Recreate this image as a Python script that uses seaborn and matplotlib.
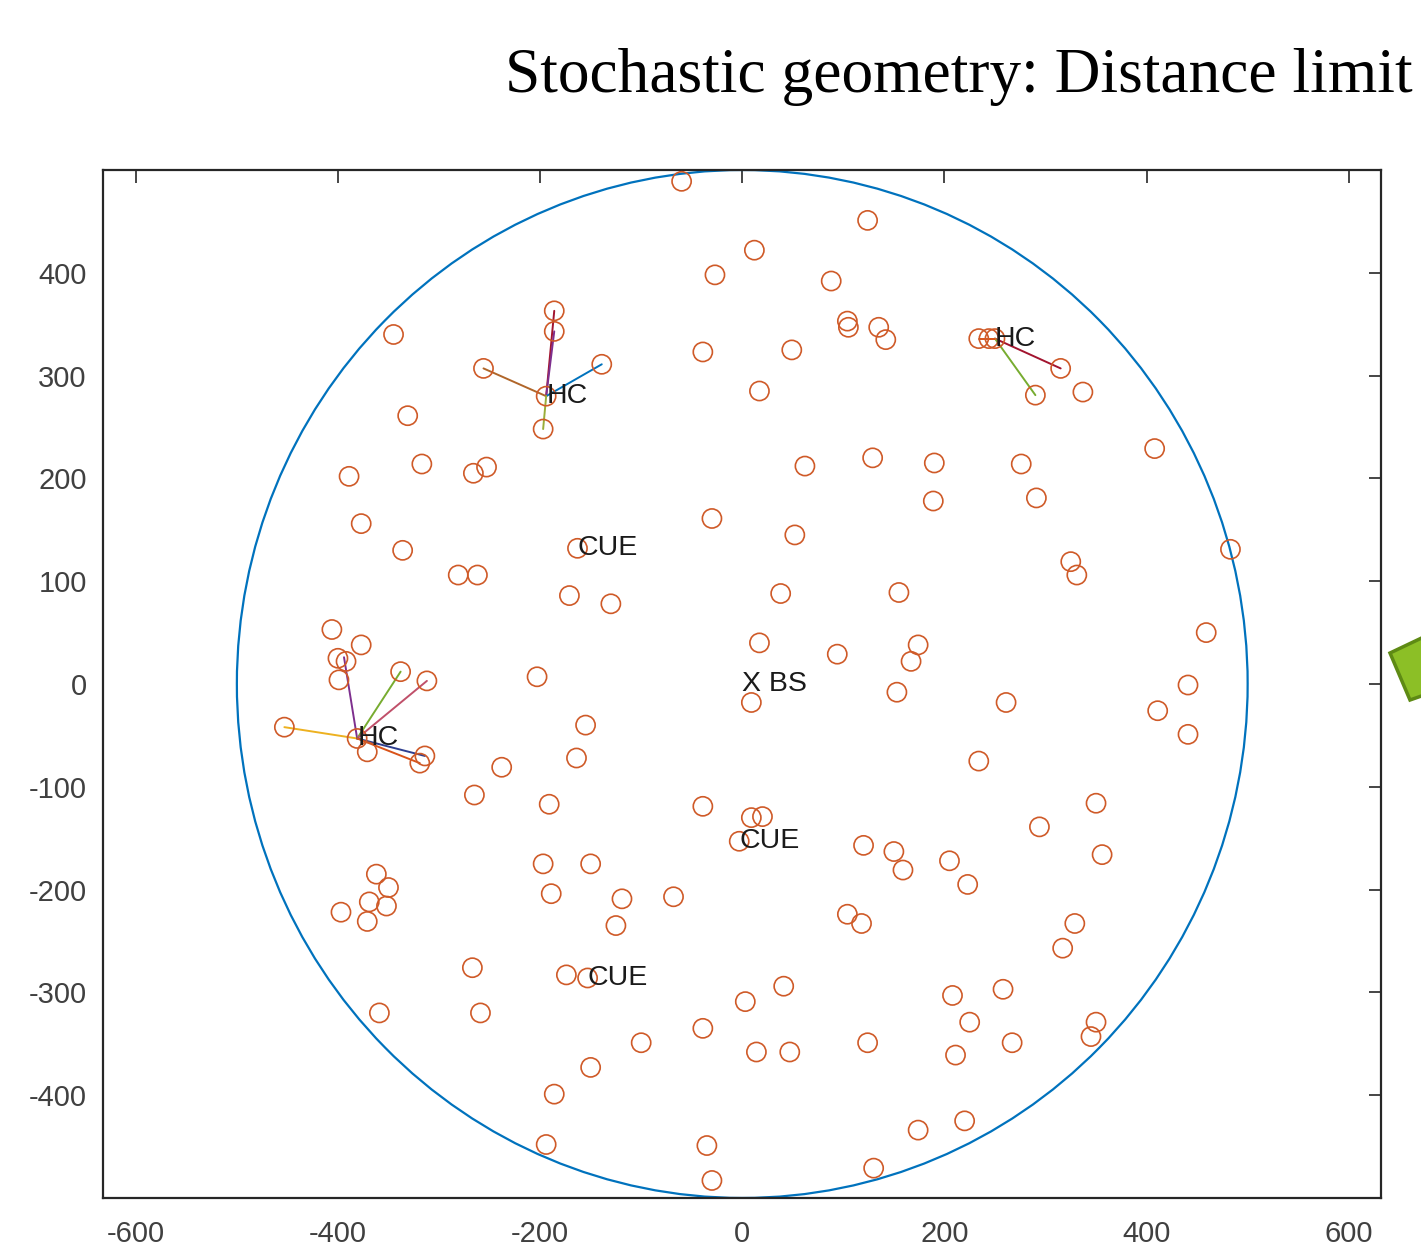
import matplotlib
matplotlib.use("Agg")
import matplotlib.pyplot as plt
import matplotlib.patches as mpatches
import seaborn as sns

# UE positions (metres)
ue_x = [-345, -186, -186, -256, -194, -197, -331, -317, -389, -266, -253, -377, -336, -281, -262, -163, -171, -203,
        -406, -377, -400, -392, -399, -338, -312, -453, -381, -371, -314, -319,
        -60, 124, 12, -27, 88, 104, 105, 135, 142, -39, 49, 17, -139, 62, 129, 190, 189, -30, 52, -130, 38, 155,
        17, 94, 174, 167, 153,
        234, 244, 250, 315, 290, 337, 408, 276, 291, 483, 325, 331, 459, 441, 261, 411, 441,
        234, 350, 294, 356, 205, 223, 329, 317, 208, 258, 225, 267, 211, 350, 345, 220,
        9, -39, 9, 20, -3, 120, 150, 159, -150, -119, -125, -68, 104, 118, -153, 41, 3, -39, -100, 14, 47, 124,
        -150, 174, -35, -30, 130,
        -155, -164, -238, -265, -191, -197, -189, -362, -350, -369, -352, -397, -371, -267, -174, -259, -359,
        -186, -194]
ue_y = [340, 363, 343, 307, 280, 248, 261, 214, 202, 205, 211, 156, 130, 106, 106, 132, 86, 7,
        53, 38, 25, 22, 4, 12, 3, -42, -53, -66, -70, -77,
        489, 451, 422, 398, 392, 353, 347, 347, 335, 323, 325, 285, 311, 212, 220, 215, 178, 161, 145, 78, 88, 89,
        40, 29, 38, 22, -8,
        336, 336, 336, 307, 281, 284, 229, 214, 181, 131, 119, 106, 50, -1, -18, -26, -49,
        -75, -116, -139, -166, -172, -195, -233, -257, -303, -297, -329, -349, -361, -329, -343, -425,
        -18, -119, -130, -129, -153, -157, -163, -181, -175, -209, -235, -207, -224, -233, -286, -294, -309, -335,
        -349, -358, -358, -349, -373, -434, -449, -483, -471,
        -40, -72, -81, -108, -117, -175, -204, -185, -198, -212, -216, -222, -231, -276, -283, -320, -320,
        -399, -448]

cell_radius = 500

# HC hubs and their links
hc_x = [-194, -381, 250]
hc_y = [280, -53, 336]
link_hc = [0, 0, 0, 0, 0, 1, 1, 1, 1, 1, 1, 2, 2, 2, 2]
link_x = [-186, -186, -139, -256, -197, -453, -394, -338, -312, -314, -319, 315, 290, 244, 234]
link_y = [363, 343, 311, 307, 248, -42, 26, 12, 3, -70, -77, 307, 281, 336, 336]
link_color = ["#A2142F", "#7E2F8E", "#0072BD", "#B0662A", "#9AAE3A",
              "#EDB120", "#7E2F8E", "#77AC30", "#C0506A", "#2E3F8F", "#D95319",
              "#A2142F", "#77AC30", "#EDB120", "#D95319"]

# text labels
label_text = ["HC", "HC", "HC", "CUE", "CUE", "CUE", "X BS"]
label_x = [-194, -381, 250, -163, -3, -153, 0]
label_y = [280, -53, 336, 132, -153, -286, 0]

sns.set_theme(style="white")
plt.rcParams["font.family"] = ["Liberation Sans", "DejaVu Sans"]
plt.rcParams["axes.unicode_minus"] = False

fig = plt.figure(figsize=(14.21, 12.51), dpi=100)
ax = fig.add_axes([0.0728, 0.0424, 0.8991, 0.8217])

ax.add_patch(mpatches.Circle((0, 0), cell_radius, fill=False, edgecolor="#0072BD", lw=1.6, zorder=2))

for i, h in enumerate(link_hc):
    ax.plot([hc_x[h], link_x[i]], [hc_y[h], link_y[i]], color=link_color[i], lw=1.4, zorder=3)

sns.scatterplot(x=ue_x, y=ue_y, ax=ax, marker="o", s=190, facecolors="none",
                edgecolors="#CF5A28", linewidth=1.2, zorder=4)

for t, x, y in zip(label_text, label_x, label_y):
    ax.text(x, y, t, ha="left", va="center", fontsize=20.5, color="#1a1a1a", zorder=5)

ax.set_xlim(-632, 632)
ax.set_ylim(-500, 500)
ax.set_xticks([-600, -400, -200, 0, 200, 400, 600])
ax.set_yticks([-400, -300, -200, -100, 0, 100, 200, 300, 400])
ax.tick_params(axis="both", direction="in", length=9, width=1.2, top=True, right=True,
               labelsize=21, labelcolor="#404040", color="#262626")
ax.tick_params(axis="x", pad=16)
ax.tick_params(axis="y", pad=12)
for s in ax.spines.values():
    s.set_color("#262626")
    s.set_linewidth(1.6)

fig.text(505 / 1421, 1 - 92 / 1251, "Stochastic geometry: Distance limit",
         family="Liberation Serif", fontsize=45.6, ha="left", va="baseline", color="black")

# green arrow shape cut off at the right edge
arrow = mpatches.Polygon([(1390 / 1421, 1 - 653 / 1251), (1430 / 1421, 1 - 634 / 1251),
                          (1430 / 1421, 1 - 693 / 1251), (1410 / 1421, 1 - 700 / 1251)],
                         closed=True, facecolor="#8CBF26", edgecolor="#5E8A14", lw=2.5,
                         transform=fig.transFigure, figure=fig)
fig.patches.append(arrow)

fig.savefig("out.png", dpi=100)
